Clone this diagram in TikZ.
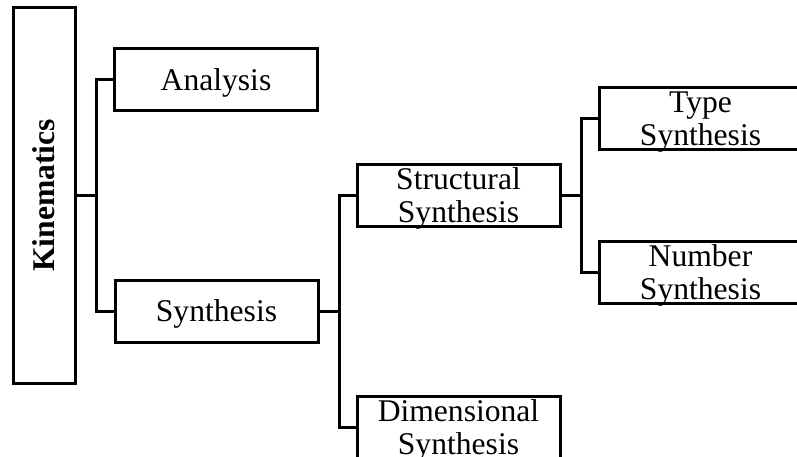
\documentclass[tikz,border=0pt]{standalone}
\usepackage{fontspec}
\setmainfont{Liberation Serif}
\usepackage{graphicx}
\usetikzlibrary{positioning}

\begin{document}
\begin{tikzpicture}[x=1pt, y=-1pt, font={\fontsize{31.6}{33}\selectfont}, every node/.style={inner sep=0pt}]
        \tikzset{
            blk/.style={draw, line width=3pt, align=center, minimum width=203pt, minimum height=62pt, text depth=0pt},
            con/.style={line width=3pt}
        }
        \path[use as bounding box, clip] (0,0) rectangle (797,457);
        \node[blk, minimum width=62pt, minimum height=375pt] (kin) at (44,195.5) {\rotatebox{90}{\textbf{Kinematics}}};
        \node[blk] (ana) at (216,79.5) {Analysis};
        \node[blk] (syn) at (216.5,311) {Synthesis};
        \node[blk] (struc) at (458.5,195.5) {Structural\\Synthesis};
        \node[blk] (dim) at (458.5,427) {Dimensional\\Synthesis};
        \node[blk] (typ) at (700.5,118.5) {Type\\Synthesis};
        \node[blk] (num) at (700.5,272.5) {Number\\Synthesis};
        \draw[con] (kin.east) -- ++(20,0) |- (ana.west);
        \draw[con] (kin.east) -- ++(20,0) |- (syn.west);
        \draw[con] (syn.east) -- ++(19.5,0) |- (struc.west);
        \draw[con] (syn.east) -- ++(19.5,0) |- (dim.west);
        \draw[con] (struc.east) -- ++(19.5,0) |- (typ.west);
        \draw[con] (struc.east) -- ++(19.5,0) |- (num.west);
    \end{tikzpicture}
\end{document}
